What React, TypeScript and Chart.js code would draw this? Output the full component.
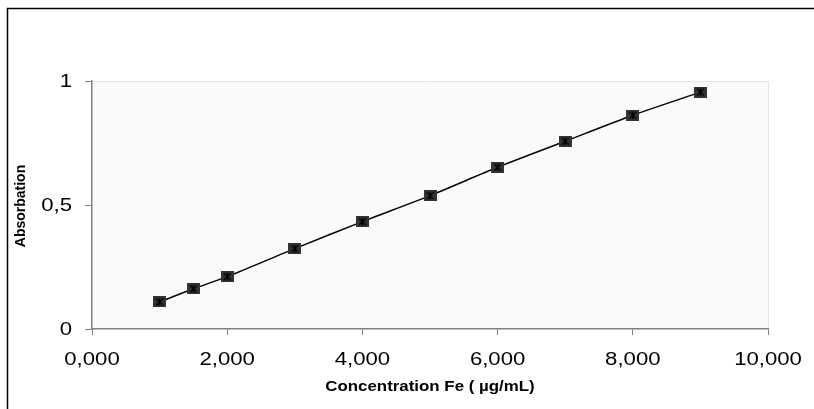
import React, { useEffect, useRef } from "react";
import { Chart, registerables } from "chart.js";

Chart.register(...registerables);

const concentrations = [1, 1.5, 2, 3, 4, 5, 6, 7, 8, 9];
const absorbances = [0.109, 0.162, 0.211, 0.324, 0.433, 0.538, 0.652, 0.757, 0.862, 0.955];
const xTickValues = [0, 2, 4, 6, 8, 10];
const yTickValues = [0, 0.5, 1];
const xTickLabels = ["0,000", "2,000", "4,000", "6,000", "8,000", "10,000"];
const yTickLabels = ["0", "0,5", "1"];
const xTitle = "Concentration Fe ( µg/mL)";
const yTitle = "Absorbation";

const STRETCH = 1.23;

function makeMarker(): HTMLCanvasElement {
  const c = document.createElement("canvas");
  c.width = 13;
  c.height = 11;
  const g = c.getContext("2d")!;
  g.fillStyle = "#333333";
  g.fillRect(0, 0, 13, 11);
  g.strokeStyle = "#000000";
  g.lineWidth = 1.2;
  g.beginPath();
  g.moveTo(3, 2);
  g.lineTo(10, 9);
  g.moveTo(10, 2);
  g.lineTo(3, 9);
  g.moveTo(6.5, 1.5);
  g.lineTo(6.5, 9.5);
  g.stroke();
  return c;
}

const framePlugin = {
  id: "frame",
  beforeDraw(chart: any) {
    const { ctx, chartArea } = chart;
    ctx.save();
    ctx.fillStyle = "#ffffff";
    ctx.fillRect(0, 0, chart.width, chart.height);
    ctx.fillStyle = "#fafafa";
    ctx.fillRect(chartArea.left, chartArea.top, chartArea.right - chartArea.left, chartArea.bottom - chartArea.top);
    ctx.strokeStyle = "#e4e4e4";
    ctx.lineWidth = 1;
    ctx.beginPath();
    ctx.moveTo(chartArea.left, chartArea.top + 0.5);
    ctx.lineTo(chartArea.right + 0.5, chartArea.top + 0.5);
    ctx.lineTo(chartArea.right + 0.5, chartArea.bottom);
    ctx.stroke();
    ctx.strokeStyle = "#000000";
    ctx.lineWidth = 1.5;
    ctx.beginPath();
    ctx.moveTo(7.5, chart.height);
    ctx.lineTo(7.5, 8.5);
    ctx.lineTo(chart.width, 8.5);
    ctx.stroke();
    ctx.restore();
  },
  afterDraw(chart: any) {
    const { ctx } = chart;
    const xs = chart.scales.x;
    const ys = chart.scales.y;
    ctx.save();
    ctx.fillStyle = "#000000";
    ctx.font = "18px 'Liberation Sans', Arial, sans-serif";
    // x tick labels
    ctx.textAlign = "center";
    ctx.textBaseline = "alphabetic";
    xTickValues.forEach((v, i) => {
      const px = xs.getPixelForValue(v);
      ctx.save();
      ctx.translate(px, 365);
      ctx.scale(STRETCH, 1);
      ctx.fillText(xTickLabels[i], 0, 0);
      ctx.restore();
    });
    // y tick labels
    ctx.textAlign = "right";
    ctx.textBaseline = "middle";
    yTickValues.forEach((v, i) => {
      const py = ys.getPixelForValue(v);
      ctx.save();
      ctx.translate(72, py + 1);
      ctx.scale(STRETCH, 1);
      ctx.fillText(yTickLabels[i], 0, 0);
      ctx.restore();
    });
    // titles
    ctx.font = "bold 14px 'Liberation Sans', Arial, sans-serif";
    ctx.textAlign = "center";
    ctx.textBaseline = "alphabetic";
    const cx = (chart.chartArea.left + chart.chartArea.right) / 2;
    ctx.save();
    ctx.translate(cx, 391);
    ctx.scale(STRETCH * 0.98, 1);
    ctx.fillText(xTitle, 0, 0);
    ctx.restore();
    const cy = (chart.chartArea.top + chart.chartArea.bottom) / 2;
    ctx.save();
    ctx.translate(25, cy + 1);
    ctx.scale(STRETCH * 0.85, 1);
    ctx.rotate(-Math.PI / 2);
    ctx.fillText(yTitle, 0, 0);
    ctx.restore();
    ctx.restore();
  },
};

export default function App() {
  const ref = useRef<HTMLCanvasElement>(null);
  useEffect(() => {
    const marker = makeMarker();
    const chart = new Chart(ref.current!, {
      type: "line",
      data: {
        datasets: [
          {
            data: concentrations.map((x, i) => ({ x, y: absorbances[i] })),
            borderColor: "#000000",
            borderWidth: 1.5,
            tension: 0.25,
            pointStyle: marker as any,
            pointRadius: 6,
            fill: false,
          },
        ],
      },
      options: {
        responsive: false,
        animation: false,
        layout: { padding: { left: 0, top: 81, right: 46, bottom: 0 } },
        plugins: { legend: { display: false }, tooltip: { enabled: false } },
        scales: {
          x: {
            type: "linear",
            min: 0,
            max: 10,
            afterFit: (s: any) => {
              s.height = 80;
            },
            ticks: { stepSize: 2, display: false },
            grid: { display: true, drawOnChartArea: false, drawTicks: true, tickLength: 6, color: "#808080" },
            border: { display: true, color: "#808080", width: 1.5 },
            title: { display: false },
          },
          y: {
            type: "linear",
            min: 0,
            max: 1,
            afterFit: (s: any) => {
              s.width = 92;
            },
            ticks: { stepSize: 0.5, display: false },
            grid: { display: true, drawOnChartArea: false, drawTicks: true, tickLength: 7, color: "#808080" },
            border: { display: true, color: "#808080", width: 1.5 },
            title: { display: false },
          },
        },
      },
      plugins: [framePlugin],
    });
    return () => chart.destroy();
  }, []);
  return (
    <div style={{ position: "absolute", left: 0, top: 0, width: 814, height: 409 }}>
      <canvas ref={ref} width={814} height={409} />
    </div>
  );
}
